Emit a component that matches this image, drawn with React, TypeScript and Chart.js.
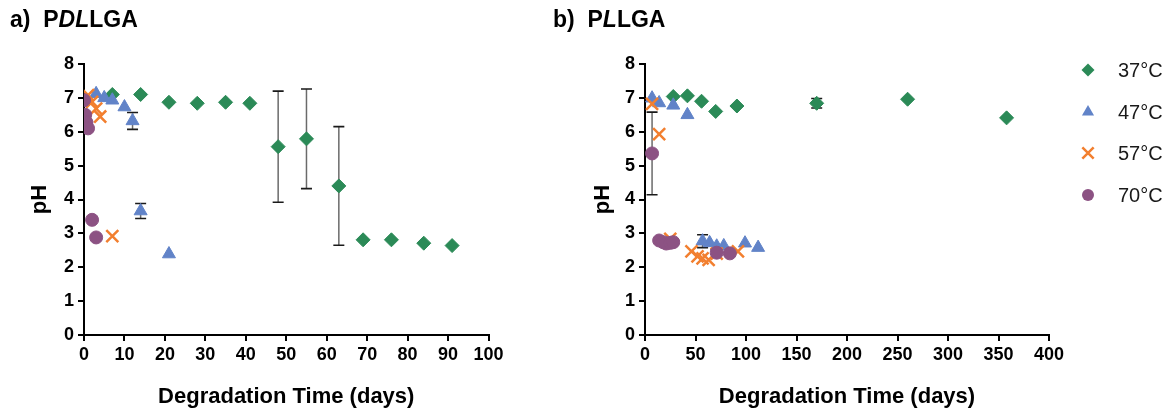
import React, { useEffect, useRef } from 'react';
import { Chart, registerables } from 'chart.js';

Chart.register(...registerables);

const FONT = "'Liberation Sans', Arial, Helvetica, sans-serif";

// ---- series meta ----
const seriesLabels = ['37°C', '47°C', '57°C', '70°C'];
const seriesColors = ['#2b8a57', '#6183c8', '#f27f2f', '#8c5283'];
const pointStyles = ['rectRot', 'triangle', 'crossRot', 'circle'];
const pointRadii = [7, 7.5, 8.5, 6.5];

// ---- ticks ----
const yTicks = [0, 1, 2, 3, 4, 5, 6, 7, 8];
const aXTicks = [0, 10, 20, 30, 40, 50, 60, 70, 80, 90, 100];
const bXTicks = [0, 50, 100, 150, 200, 250, 300, 350, 400];

// ---- a) PDLLGA ----
const aDays37 = [7, 14, 21, 28, 35, 41, 48, 55, 63, 69, 76, 84, 91];
const aPH37 = [7.1, 7.1, 6.87, 6.84, 6.87, 6.84, 5.56, 5.79, 4.4, 2.81, 2.81, 2.71, 2.64];
const aSD37 = [0, 0, 0, 0, 0, 0, 1.64, 1.47, 1.75, 0, 0, 0, 0];

const aDays47 = [3, 5, 7, 10, 12, 14, 21];
const aPH47 = [7.12, 7.0, 6.93, 6.73, 6.32, 3.66, 2.39];
const aSD47 = [0, 0, 0, 0, 0.25, 0.22, 0];

const aDays57 = [1, 2, 3, 4, 7];
const aPH57 = [7.08, 6.88, 6.68, 6.45, 2.92];
const aSD57 = [0, 0, 0, 0, 0];

const aDays70 = [0, 0.3, 0.6, 1, 2, 3];
const aPH70 = [6.93, 6.5, 6.28, 6.1, 3.4, 2.88];
const aSD70 = [0, 0, 0, 0, 0, 0];

// ---- b) PLLGA ----
const bDays37 = [28, 42, 56, 70, 91, 170, 260, 358];
const bPH37 = [7.04, 7.06, 6.9, 6.6, 6.76, 6.84, 6.96, 6.41];
const bSD37 = [0, 0, 0, 0, 0, 0.14, 0, 0];

const bDays47 = [7, 14, 28, 42, 57, 64, 71, 78, 99, 112];
const bPH47 = [6.99, 6.85, 6.78, 6.5, 2.77, 2.72, 2.62, 2.63, 2.71, 2.58];
const bSD47 = [0, 0, 0, 0, 0.19, 0, 0, 0, 0, 0];

const bDays57 = [7, 14, 25, 46, 52, 57, 63, 71, 92];
const bPH57 = [6.82, 5.93, 2.84, 2.47, 2.32, 2.26, 2.22, 2.4, 2.47];
const bSD57 = [0, 0, 0, 0, 0, 0, 0, 0, 0];

const bDays70 = [7, 14, 18, 21, 25, 28, 71, 84];
const bPH70 = [5.36, 2.79, 2.74, 2.7, 2.72, 2.74, 2.43, 2.41];
const bSD70 = [1.22, 0, 0, 0, 0, 0, 0, 0];

function makeDatasets(days: number[][], ph: number[][], sd: number[][]) {
  return seriesLabels.map((label, i) => ({
    label,
    data: days[i].map((d, j) => ({ x: d, y: ph[i][j] })),
    errorBars: sd[i],
    pointStyle: pointStyles[i],
    pointRadius: pointRadii[i],
    pointHoverRadius: pointRadii[i],
    backgroundColor: seriesColors[i],
    borderColor: seriesColors[i],
    pointBorderWidth: i === 2 ? 2.5 : 1,
    showLine: false,
    order: 4 - i,
  }));
}

const errorBarPlugin = {
  id: 'errorBars',
  beforeDatasetsDraw(chart: any) {
    const { ctx } = chart;
    const xs = chart.scales.x;
    const ys = chart.scales.y;
    ctx.save();
    chart.data.datasets.forEach((ds: any) => {
      const sds: number[] = ds.errorBars || [];
      ds.data.forEach((p: any, j: number) => {
        const e = sds[j];
        if (!e) return;
        const px = xs.getPixelForValue(p.x);
        const t = ys.getPixelForValue(p.y + e);
        const b = ys.getPixelForValue(p.y - e);
        ctx.strokeStyle = '#6a6a6a';
        ctx.lineWidth = 1.5;
        ctx.beginPath();
        ctx.moveTo(px, t);
        ctx.lineTo(px, b);
        ctx.stroke();
        ctx.strokeStyle = '#1a1a1a';
        ctx.lineWidth = 1.6;
        ctx.beginPath();
        ctx.moveTo(px - 5.5, t);
        ctx.lineTo(px + 5.5, t);
        ctx.moveTo(px - 5.5, b);
        ctx.lineTo(px + 5.5, b);
        ctx.stroke();
      });
    });
    ctx.restore();
  },
};

function drawMarker(ctx: CanvasRenderingContext2D, style: string, x: number, y: number, r: number, color: string) {
  ctx.save();
  ctx.fillStyle = color;
  ctx.strokeStyle = color;
  ctx.beginPath();
  if (style === 'rectRot') {
    ctx.moveTo(x, y - r);
    ctx.lineTo(x + r, y);
    ctx.lineTo(x, y + r);
    ctx.lineTo(x - r, y);
    ctx.closePath();
    ctx.fill();
  } else if (style === 'triangle') {
    ctx.moveTo(x, y - r);
    ctx.lineTo(x + 0.866 * r, y + 0.5 * r);
    ctx.lineTo(x - 0.866 * r, y + 0.5 * r);
    ctx.closePath();
    ctx.fill();
  } else if (style === 'crossRot') {
    const o = 0.7071 * r;
    ctx.lineWidth = 2.5;
    ctx.moveTo(x - o, y - o);
    ctx.lineTo(x + o, y + o);
    ctx.moveTo(x - o, y + o);
    ctx.lineTo(x + o, y - o);
    ctx.stroke();
  } else {
    ctx.arc(x, y, r, 0, Math.PI * 2);
    ctx.fill();
  }
  ctx.restore();
}

const legendPlugin = {
  id: 'sideLegend',
  afterDraw(chart: any) {
    const { ctx } = chart;
    const left = chart.chartArea.right + 39;
    const rows = [70, 112, 153, 195];
    ctx.save();
    seriesLabels.forEach((label, i) => {
      drawMarker(ctx, pointStyles[i], left, rows[i], pointRadii[i] - 0.5, seriesColors[i]);
      ctx.fillStyle = '#1a1a1a';
      ctx.font = `20px ${FONT}`;
      ctx.textBaseline = 'middle';
      ctx.textAlign = 'left';
      ctx.fillText(label, left + 30, rows[i] + 1);
    });
    ctx.restore();
  },
};

interface PanelProps {
  datasets: any[];
  xTicks: number[];
  width: number;
  padLeft: number;
  yWidth: number;
  padRight: number;
  legend?: boolean;
}

function Panel({ datasets, xTicks, width, padLeft, yWidth, padRight, legend }: PanelProps) {
  const ref = useRef<HTMLCanvasElement | null>(null);
  useEffect(() => {
    if (!ref.current) return;
    const tickFont = { family: FONT, size: 18, weight: 'bold' as const };
    const titleFont = { family: FONT, size: 22, weight: 'bold' as const };
    const chart = new Chart(ref.current, {
      type: 'scatter',
      data: { datasets },
      options: {
        responsive: false,
        animation: false,
        events: [],
        layout: { padding: { left: padLeft, top: 64, right: padRight, bottom: 3 } },
        plugins: { legend: { display: false }, tooltip: { enabled: false } },
        scales: {
          x: {
            type: 'linear',
            min: xTicks[0],
            max: xTicks[xTicks.length - 1],
            afterFit: (s: any) => { s.height = 75; },
            afterBuildTicks: (s: any) => { s.ticks = xTicks.map((v) => ({ value: v })); },
            ticks: { font: tickFont, color: '#000', padding: 3, autoSkip: false, maxRotation: 0 },
            grid: { drawOnChartArea: false, drawTicks: true, tickLength: 6, color: '#000', lineWidth: 2 },
            border: { display: true, color: '#000', width: 2 },
            title: { display: true, text: 'Degradation Time (days)', font: titleFont, color: '#000', padding: 0 },
          },
          y: {
            type: 'linear',
            min: yTicks[0],
            max: yTicks[yTicks.length - 1],
            afterFit: (s: any) => { s.width = yWidth; },
            afterBuildTicks: (s: any) => { s.ticks = yTicks.map((v) => ({ value: v })); },
            ticks: { font: tickFont, color: '#000', padding: 4 },
            grid: { drawOnChartArea: false, drawTicks: true, tickLength: 6, color: '#000', lineWidth: 2 },
            border: { display: true, color: '#000', width: 2 },
            title: { display: true, text: 'pH', font: titleFont, color: '#000', padding: 0 },
          },
        },
      } as any,
      plugins: legend ? [errorBarPlugin, legendPlugin] : [errorBarPlugin],
    });
    return () => chart.destroy();
  }, []);
  return <canvas ref={ref} width={width} height={413} style={{ display: 'block', width, height: 413 }} />;
}

const titleStyle: React.CSSProperties = {
  position: 'absolute',
  top: 8,
  font: `bold 23px ${FONT}`,
  lineHeight: '23px',
  color: '#000',
  whiteSpace: 'pre',
};

export default function App() {
  const aSets = makeDatasets([aDays37, aDays47, aDays57, aDays70], [aPH37, aPH47, aPH57, aPH70], [aSD37, aSD47, aSD57, aSD70]);
  const bSets = makeDatasets([bDays37, bDays47, bDays57, bDays70], [bPH37, bPH47, bPH57, bPH70], [bSD37, bSD47, bSD57, bSD70]);
  return (
    <div style={{ position: 'absolute', left: 0, top: 0, width: 1171, height: 413, background: '#fff', overflow: 'hidden' }}>
      <div style={{ position: 'absolute', left: 0, top: 0 }}>
        <Panel datasets={aSets} xTicks={aXTicks} width={560} padLeft={27} yWidth={57} padRight={71.5} />
      </div>
      <div style={{ position: 'absolute', left: 560, top: 0 }}>
        <Panel datasets={bSets} xTicks={bXTicks} width={611} padLeft={30} yWidth={55} padRight={122} legend />
      </div>
      <div style={{ ...titleStyle, left: 10 }}>a)  P<i>DL</i>LGA</div>
      <div style={{ ...titleStyle, left: 553 }}>b)  P<i>L</i>LGA</div>
    </div>
  );
}
